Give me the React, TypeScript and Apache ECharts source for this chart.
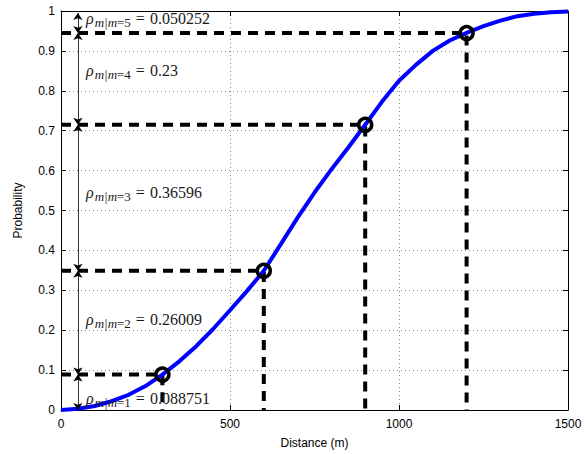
import React, { useEffect, useRef } from 'react';
import * as echarts from 'echarts';

// Curve (distance in m, probability)
const curveX = [0, 50, 100, 150, 200, 250, 300, 350, 400, 450, 500, 550, 600, 650, 700, 750, 800, 850, 900, 950, 1000, 1050, 1100, 1150, 1200, 1250, 1300, 1350, 1400, 1450, 1500];
const curveY = [0, 0.003, 0.01, 0.022, 0.038, 0.06, 0.0888, 0.122, 0.16, 0.203, 0.25, 0.298, 0.349, 0.415, 0.482, 0.545, 0.603, 0.658, 0.715, 0.773, 0.825, 0.865, 0.9, 0.926, 0.945, 0.962, 0.976, 0.987, 0.993, 0.997, 0.999];

// Marked distances and the probability increments between them
const pointX = [300, 600, 900, 1200];
const rho = [0.088751, 0.26009, 0.36596, 0.23, 0.050252];
const rhoText = ['0.088751', '0.26009', '0.36596', '0.23', '0.050252'];
const rhoIndex = ['1', '2', '3', '4', '5'];
const labelY = [0.03, 0.226, 0.544, 0.852, 0.98];
const labelX = 74;
const arrowX = 50;

export default function App() {
  const ref = useRef<HTMLDivElement>(null);
  useEffect(() => {
    if (!ref.current) return;
    const chart = echarts.init(ref.current, undefined, { renderer: 'svg' });
    const levels: number[] = [0];
    rho.forEach((r) => levels.push(levels[levels.length - 1] + r));
    const pointY = levels.slice(1, 5);

    const sans = 'Liberation Sans, Arial, sans-serif';
    const serif = '"Liberation Serif", "DejaVu Serif", serif';
    const txt = '#1a1a1a';
    const gridLine = { show: true, lineStyle: { color: '#8a8a8a', type: [1, 3] as any, width: 1 } };

    const dashed = pointX.map((x, i) => ({
      type: 'line',
      data: [[0, pointY[i]], [x, pointY[i]], [x, 0]],
      symbol: 'none',
      lineStyle: { color: '#000', width: 4, type: [10, 7] as any },
      z: 2,
      silent: true,
    }));

    const option: any = {
      animation: false,
      grid: { left: 61, right: 17, top: 11, bottom: 44 },
      xAxis: [
        {
          type: 'value', min: 0, max: 1500, interval: 500, position: 'bottom',
          axisLine: { show: true, onZero: false, lineStyle: { color: '#000', width: 1 } },
          axisTick: { show: true, inside: true, length: 5, lineStyle: { color: '#000' } },
          axisLabel: { color: '#000', fontSize: 12, fontFamily: sans, margin: 8, formatter: (v: number) => String(v) },
          splitLine: gridLine,
          name: 'Distance (m)', nameLocation: 'middle', nameGap: 27,
          nameTextStyle: { color: '#000', fontSize: 12, fontFamily: sans },
        },
        {
          type: 'value', min: 0, max: 1500, interval: 500, position: 'top',
          axisLine: { show: true, onZero: false, lineStyle: { color: '#000', width: 1 } },
          axisTick: { show: true, inside: true, length: 5, lineStyle: { color: '#000' } },
          axisLabel: { show: false },
          splitLine: { show: false },
        },
      ],
      yAxis: [
        {
          type: 'value', min: 0, max: 1, interval: 0.1, position: 'left',
          axisLine: { show: true, onZero: false, lineStyle: { color: '#000', width: 1 } },
          axisTick: { show: true, inside: true, length: 5, lineStyle: { color: '#000' } },
          axisLabel: {
            color: '#000', fontSize: 12, fontFamily: sans, margin: 6,
            formatter: (v: number) => String(Number(v.toFixed(1))),
          },
          splitLine: gridLine,
          name: 'Probability', nameLocation: 'middle', nameGap: 37,
          nameTextStyle: { color: '#000', fontSize: 12, fontFamily: sans },
        },
        {
          type: 'value', min: 0, max: 1, interval: 0.1, position: 'right',
          axisLine: { show: true, onZero: false, lineStyle: { color: '#000', width: 1 } },
          axisTick: { show: true, inside: true, length: 5, lineStyle: { color: '#000' } },
          axisLabel: { show: false },
          splitLine: { show: false },
        },
      ],
      series: [
        ...dashed,
        {
          type: 'line',
          data: curveX.map((x, i) => [x, curveY[i]]),
          symbol: 'none',
          lineStyle: { color: '#0000ff', width: 4 },
          z: 3,
          silent: true,
        },
        {
          type: 'scatter',
          data: pointX.map((x, i) => [x, pointY[i]]),
          symbol: 'circle',
          symbolSize: 13,
          itemStyle: { color: 'rgba(0,0,0,0)', borderColor: '#000', borderWidth: 3.5, opacity: 1 },
          z: 4,
          silent: true,
        },
        {
          type: 'line',
          data: [],
          symbol: 'none',
          markLine: {
            silent: true,
            animation: false,
            symbol: ['arrow', 'arrow'],
            symbolSize: 7,
            lineStyle: { color: '#000', width: 0.8, type: 'solid' },
            label: { show: false },
            data: rho.map((_, i) => [
              { coord: [arrowX, levels[i]] },
              { coord: [arrowX, Math.min(levels[i + 1], 1)] },
            ]),
          },
          z: 5,
        },
        {
          type: 'scatter',
          symbolSize: 0,
          itemStyle: { opacity: 1, color: '#000' },
          data: labelY.map((y, i) => [labelX, y, i]),
          z: 6,
          silent: true,
          label: {
            show: true,
            position: 'right',
            distance: 0,
            color: txt,
            fontSize: 16,
            fontFamily: serif,
            opacity: 1,
            formatter: (p: any) => {
              const i = p.value[2];
              return `{r|ρ}{s|m|m}{u|=${rhoIndex[i]}}{e|=}{t|${rhoText[i]}}`;
            },
            rich: {
              r: { fontFamily: serif, fontStyle: 'italic', fontSize: 16, color: txt },
              s: { fontFamily: serif, fontStyle: 'italic', fontSize: 13, color: txt, padding: [8, 0, 0, 1] },
              u: { fontFamily: serif, fontSize: 13, color: txt, padding: [8, 0, 0, 0] },
              e: { fontFamily: serif, fontSize: 16, color: txt, padding: [0, 5, 0, 5] },
              t: { fontFamily: serif, fontSize: 16, color: txt },
            },
          },
        },
      ],
    };
    chart.setOption(option);
    return () => chart.dispose();
  }, []);
  return <div ref={ref} style={{ position: 'fixed', left: 0, top: 0, width: 585, height: 454, background: '#fff' }} />;
}
